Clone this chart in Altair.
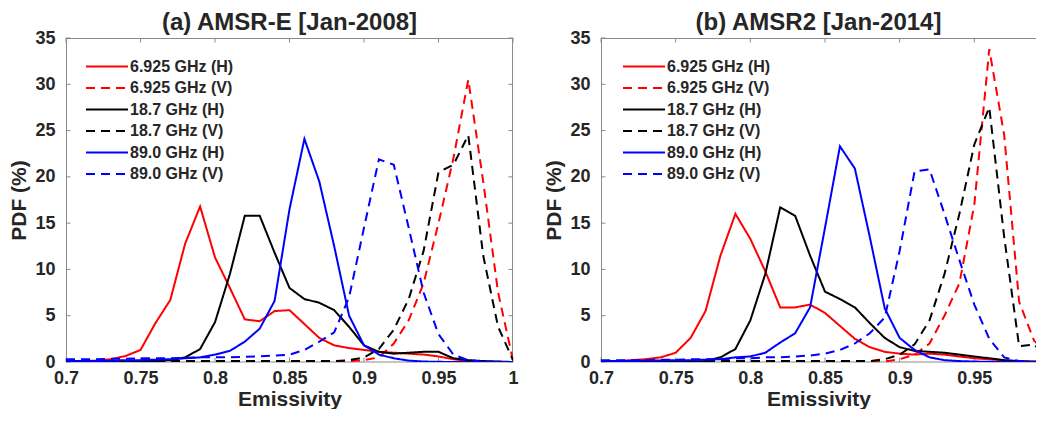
import altair as alt
import pandas as pd

# ---------------- data ----------------
emissivity = [0.70, 0.71, 0.72, 0.73, 0.74, 0.75, 0.76, 0.77, 0.78, 0.79,
              0.80, 0.81, 0.82, 0.83, 0.84, 0.85, 0.86, 0.87, 0.88, 0.89,
              0.90, 0.91, 0.92, 0.93, 0.94, 0.95, 0.96, 0.97, 0.98, 0.99, 1.00]

series_names = ["6.925 GHz (H)", "6.925 GHz (V)", "18.7 GHz (H)",
                "18.7 GHz (V)", "89.0 GHz (H)", "89.0 GHz (V)"]

# (a) AMSR-E [Jan-2008]
amsre_6H = [0.1, 0.1, 0.15, 0.3, 0.65, 1.3, 4.2, 6.7, 12.8, 16.8,
            11.3, 8.0, 4.6, 4.4, 5.5, 5.6, 4.1, 2.6, 1.8, 1.5,
            1.3, 1.1, 1.0, 0.9, 0.8, 0.6, 0.3, 0.1, 0.05, 0.02, 0.0]
amsre_6V = [0.05, 0.05, 0.05, 0.05, 0.05, 0.05, 0.05, 0.05, 0.05, 0.05,
            0.05, 0.05, 0.05, 0.05, 0.05, 0.05, 0.05, 0.05, 0.05, 0.1,
            0.2, 0.5, 2.0, 4.5, 8.5, 15.0, 22.0, 30.5, 19.5, 7.5, 0.2]
amsre_18H = [0.05, 0.05, 0.05, 0.05, 0.1, 0.1, 0.1, 0.2, 0.5, 1.4,
             4.3, 9.5, 15.8, 15.8, 11.8, 8.0, 6.8, 6.4, 5.6, 3.8,
             1.8, 1.1, 0.9, 1.0, 1.1, 1.1, 0.4, 0.2, 0.1, 0.05, 0.0]
amsre_18V = [0.1, 0.1, 0.1, 0.1, 0.1, 0.1, 0.1, 0.1, 0.1, 0.1,
             0.1, 0.1, 0.1, 0.1, 0.1, 0.1, 0.1, 0.1, 0.1, 0.2,
             0.5, 1.4, 3.5, 6.8, 12.0, 20.5, 21.3, 24.5, 11.5, 3.8, 0.2]
amsre_89H = [0.1, 0.1, 0.1, 0.15, 0.2, 0.2, 0.25, 0.3, 0.4, 0.5,
             0.8, 1.2, 2.2, 3.6, 6.6, 16.5, 24.1, 19.5, 12.5, 5.0,
             1.8, 0.8, 0.4, 0.15, 0.05, 0.02, 0.0, 0.0, 0.0, 0.0, 0.0]
amsre_89V = [0.3, 0.3, 0.3, 0.35, 0.35, 0.4, 0.4, 0.4, 0.45, 0.5,
             0.5, 0.5, 0.55, 0.6, 0.7, 0.8, 1.3, 2.2, 3.2, 7.0,
             14.5, 21.9, 21.3, 14.5, 7.5, 3.0, 0.8, 0.2, 0.05, 0.0, 0.0]

# (b) AMSR2 [Jan-2014]
amsr2_6H = [0.1, 0.1, 0.2, 0.3, 0.5, 1.0, 2.6, 5.5, 11.5, 16.0,
            13.3, 9.8, 5.9, 5.9, 6.2, 5.3, 3.9, 2.5, 1.6, 1.1,
            0.9, 0.8, 0.9, 0.8, 0.6, 0.4, 0.3, 0.15, 0.05, 0.02, 0.0]
amsr2_6V = [0.05, 0.05, 0.05, 0.05, 0.05, 0.05, 0.05, 0.05, 0.05, 0.05,
            0.05, 0.05, 0.05, 0.05, 0.05, 0.05, 0.05, 0.05, 0.05, 0.05,
            0.3, 0.8, 2.0, 5.0, 8.5, 17.0, 33.8, 24.5, 6.5, 2.3, 0.8]
amsr2_18H = [0.05, 0.05, 0.05, 0.05, 0.05, 0.05, 0.05, 0.1, 0.5, 1.4,
             4.5, 9.5, 16.7, 15.8, 11.5, 7.6, 6.8, 5.9, 4.2, 2.6,
             1.6, 1.2, 1.1, 1.0, 0.8, 0.6, 0.4, 0.2, 0.1, 0.05, 0.0]
amsr2_18V = [0.1, 0.1, 0.1, 0.1, 0.1, 0.1, 0.1, 0.1, 0.1, 0.1,
             0.1, 0.1, 0.1, 0.1, 0.1, 0.1, 0.1, 0.1, 0.1, 0.3,
             0.8, 1.9, 4.5, 9.5, 16.0, 23.5, 27.5, 13.5, 1.7, 1.9, 0.3]
amsr2_89H = [0.1, 0.1, 0.1, 0.15, 0.15, 0.2, 0.2, 0.25, 0.3, 0.5,
             0.6, 1.0, 2.1, 3.1, 5.9, 14.5, 23.3, 20.9, 13.5, 5.8,
             2.6, 1.3, 0.5, 0.2, 0.1, 0.05, 0.02, 0.0, 0.0, 0.0, 0.0]
amsr2_89V = [0.2, 0.2, 0.2, 0.2, 0.25, 0.25, 0.3, 0.3, 0.3, 0.4,
             0.4, 0.5, 0.5, 0.6, 0.7, 0.9, 1.3, 2.0, 3.1, 4.8,
             12.0, 20.6, 20.8, 16.0, 11.0, 6.2, 2.5, 0.5, 0.1, 0.0, 0.0]

x_ticks_full = [0.7, 0.75, 0.8, 0.85, 0.9, 0.95, 1.0]
x_ticks_cut = [0.7, 0.75, 0.8, 0.85, 0.9, 0.95]
y_ticks = [0, 5, 10, 15, 20, 25, 30, 35]

titles = ["(a) AMSR-E [Jan-2008]", "(b) AMSR2 [Jan-2014]"]

# ---------------- style ----------------
FONT = "Liberation Sans"
TXT = "#262626"
BOX = "#8a8a8a"
H = 324
W_LEFT = 447
FULL_W = 448            # width the right panel would have for 0.7..1.0
W_RIGHT = 435           # the window cuts the right panel off
colors = ["#ff0000", "#ff0000", "#000000", "#000000", "#0000ff", "#0000ff"]
dashes = [[1, 0], [9, 6], [1, 0], [9, 6], [1, 0], [9, 6]]


def long_table(cols):
    rows = []
    for name, vals in zip(series_names, cols):
        for e, v in zip(emissivity, vals):
            rows.append({"e": e, "pdf": v, "series": name})
    return pd.DataFrame(rows)


def panel(cols, title, width, xmax, xticks, right_edge, legend_x):
    df = long_table(cols)
    xscale = alt.Scale(domain=[0.7, xmax], nice=False, zero=False)
    yscale = alt.Scale(domain=[0, 35], nice=False, zero=True)
    legend = alt.Legend(
        title=None, orient="none", legendX=legend_x, legendY=17,
        symbolType="M-2,0L2,0", symbolSize=441, symbolStrokeWidth=2,
        labelFont=FONT, labelFontSize=16, labelFontWeight="bold",
        labelColor=TXT, labelOffset=11.5, rowPadding=1.5, padding=0,
    )
    lines = alt.Chart(df).mark_line(strokeWidth=2, clip=True).encode(
        x=alt.X("e:Q", scale=xscale, title="Emissivity",
                axis=alt.Axis(values=xticks, format="~g")),
        y=alt.Y("pdf:Q", scale=yscale, title="PDF (%)",
                axis=alt.Axis(values=y_ticks, format="d")),
        color=alt.Color("series:N", sort=series_names,
                        scale=alt.Scale(domain=series_names, range=colors),
                        legend=legend),
        strokeDash=alt.StrokeDash("series:N", sort=series_names,
                                  scale=alt.Scale(domain=series_names, range=dashes),
                                  legend=legend),
        order=alt.Order("e:Q"),
    )
    xt = pd.DataFrame({"e": xticks})
    yt = pd.DataFrame({"pdf": y_ticks})
    one = pd.DataFrame({"k": [0]})
    tick_len = 4.5
    rule = dict(color=BOX, strokeWidth=1)
    layers = [
        alt.Chart(xt).mark_rule(**rule).encode(
            x=alt.X("e:Q", scale=xscale), y=alt.value(0), y2=alt.value(tick_len)),
        alt.Chart(xt).mark_rule(**rule).encode(
            x=alt.X("e:Q", scale=xscale), y=alt.value(H), y2=alt.value(H - tick_len)),
        alt.Chart(yt).mark_rule(**rule).encode(
            y=alt.Y("pdf:Q", scale=yscale), x=alt.value(0), x2=alt.value(tick_len)),
        # frame of the plot area
        alt.Chart(one).mark_rule(**rule).encode(
            x=alt.value(0), x2=alt.value(width), y=alt.value(0.5)),
        alt.Chart(one).mark_rule(**rule).encode(
            x=alt.value(0), x2=alt.value(width), y=alt.value(H)),
        alt.Chart(one).mark_rule(**rule).encode(
            x=alt.value(0.5), y=alt.value(0), y2=alt.value(H)),
    ]
    if right_edge:
        layers.append(alt.Chart(yt).mark_rule(**rule).encode(
            y=alt.Y("pdf:Q", scale=yscale), x=alt.value(width), x2=alt.value(width - tick_len)))
        layers.append(alt.Chart(one).mark_rule(**rule).encode(
            x=alt.value(width - 0.5), y=alt.value(0), y2=alt.value(H)))
    layers.append(lines)
    return alt.layer(*layers).properties(
        width=width, height=H,
        title=alt.Title(title, font=FONT, fontSize=24, fontWeight="bold",
                        color=TXT, offset=-6, anchor="middle"),
    )


left = panel([amsre_6H, amsre_6V, amsre_18H, amsre_18V, amsre_89H, amsre_89V],
             titles[0], W_LEFT, 1.0, x_ticks_full, True, 29.5)
right = panel([amsr2_6H, amsr2_6V, amsr2_18H, amsr2_18V, amsr2_89H, amsr2_89V],
              titles[1], W_RIGHT, 0.7 + 0.3 * W_RIGHT / FULL_W, x_ticks_cut, False, 31.5)

chart = alt.hconcat(left, right, spacing=88, bounds="flush").resolve_scale(
    color="independent", strokeDash="independent"
).resolve_legend(
    color="independent", strokeDash="independent"
).properties(
    padding={"left": 0, "top": 3, "right": 0, "bottom": 0}
).configure_view(
    strokeWidth=0
).configure_axis(
    domain=False, ticks=False, grid=False,
    labelFont=FONT, labelFontSize=18, labelFontWeight="bold", labelColor=TXT,
    titleFont=FONT, titleFontSize=21, titleFontWeight="bold", titleColor=TXT,
    labelOverlap=False, labelFlush=False,
).configure_axisX(
    labelPadding=7, titlePadding=1,
).configure_axisY(
    labelPadding=11, titlePadding=5,
)

chart.save("out.html", embed_options={"renderer": "svg", "actions": False})
